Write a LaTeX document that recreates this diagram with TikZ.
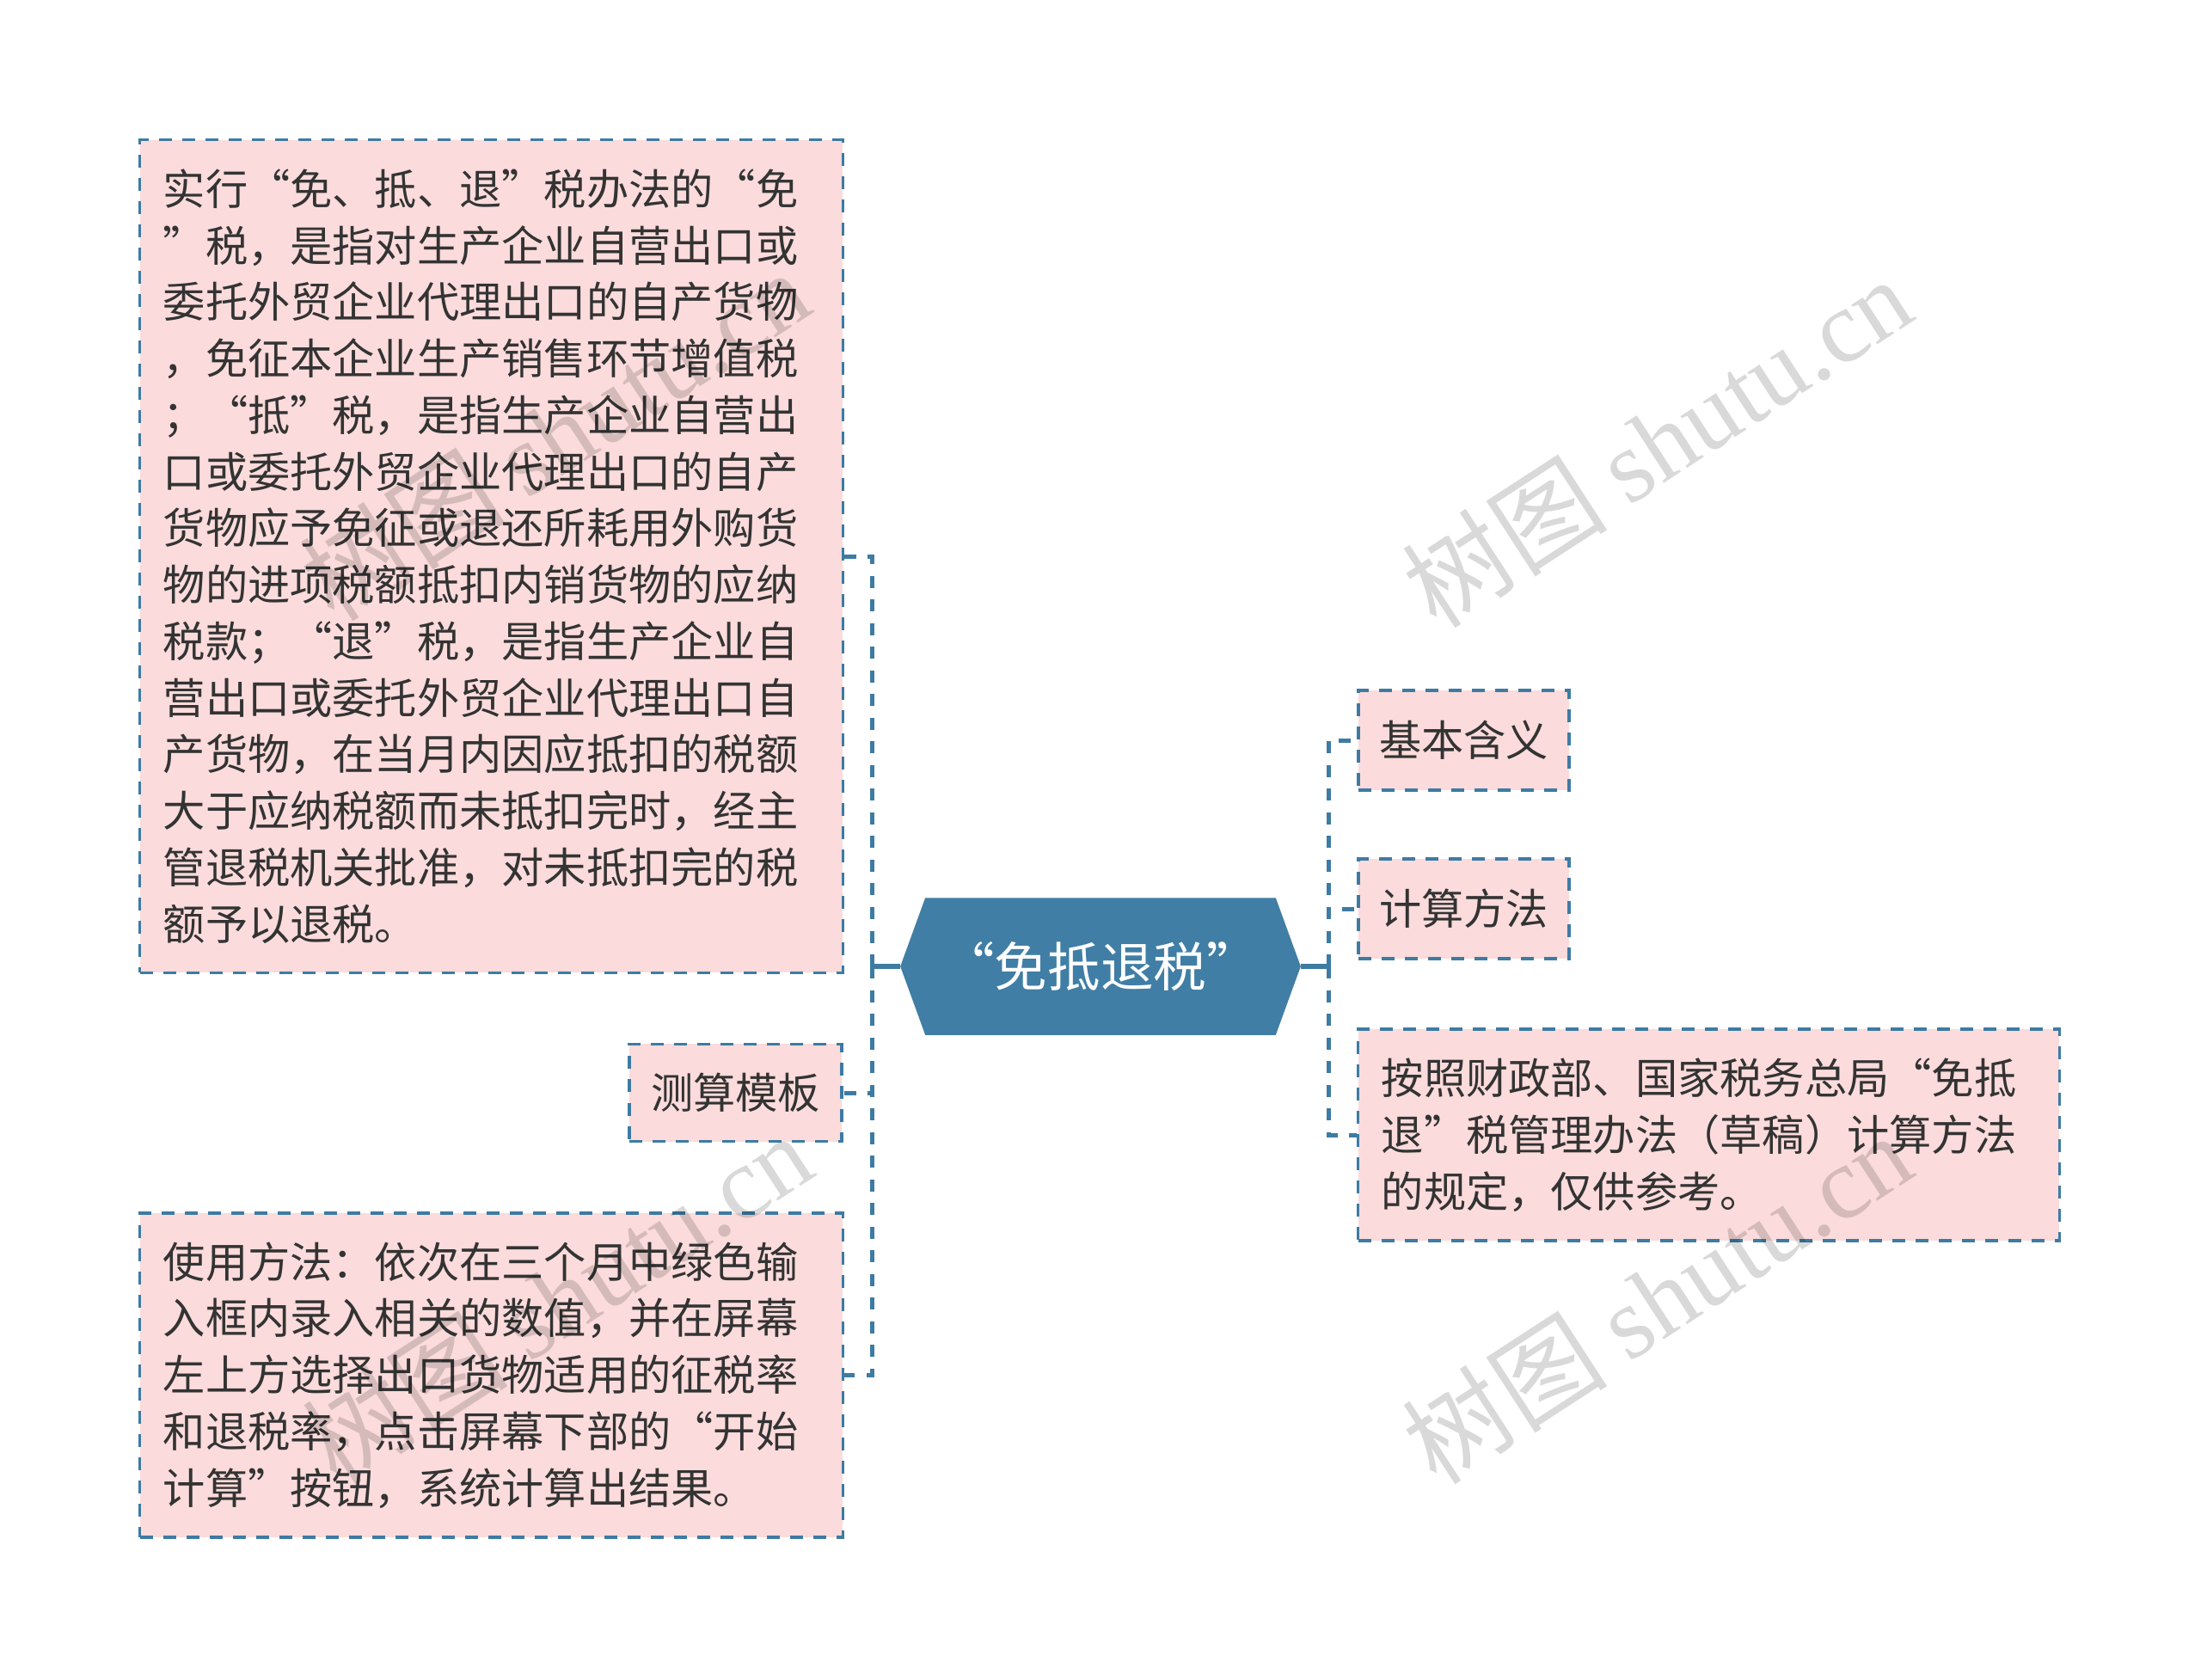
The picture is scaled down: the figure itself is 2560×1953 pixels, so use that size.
\documentclass[tikz,border=0pt]{standalone}
\usepackage{fontspec}
\setmainfont{Noto Sans CJK SC}
\newfontfamily\wmserif{Liberation Serif}
\definecolor{linkblue}{RGB}{61,123,163}
\definecolor{hexblue}{RGB}{64,126,165}
\definecolor{boxpink}{RGB}{251,219,219}
\definecolor{txtgray}{RGB}{51,51,51}
\pgfdeclarelayer{bg}
\pgfsetlayers{bg,main}
\tikzset{
  leaf/.style={draw=linkblue, line width=0.033cm, dash pattern=on 0.15cm off 0.12cm,
    fill=boxpink, text=txtgray, inner sep=0pt, font=\fontsize{14pt}{18.7pt}\selectfont},
  bigleaf/.style={leaf, align=left, text width=7.63cm, inner xsep=0.27cm},
  link/.style={draw=linkblue, line width=0.05cm, dash pattern=on 0.14cm off 0.135cm},
  stem/.style={draw=linkblue, line width=0.06cm},
  wm/.style={rotate=33, text=black, text opacity=0.15, inner sep=0pt,
    font=\fontsize{34pt}{38pt}\selectfont}
}
\begin{document}
\begin{tikzpicture}[x=0.01cm,y=-0.01cm]
\useasboundingbox (0,0) rectangle (2560,1953);
\begin{pgfonlayer}{bg}
\fill[white] (0,0) rectangle (2560,1953);
\end{pgfonlayer}

% central topic
\node[minimum width=4.64cm, minimum height=1.58cm, inner sep=0pt, text=white,
  font=\fontsize{17.5pt}{21pt}\selectfont] (H) at (1280,1124) {“免抵退税”};
\begin{pgfonlayer}{bg}
\fill[hexblue] (H.west) -- ([xshift=0.29cm]H.north west) -- ([xshift=-0.29cm]H.north east)
  -- (H.east) -- ([xshift=-0.29cm]H.south east) -- ([xshift=0.29cm]H.south west) -- cycle;
\end{pgfonlayer}

% left children
\node[bigleaf, minimum height=9.68cm] (A) at (571.5,647) {%
实行“免、抵、退”税办法的“免\\
”税，是指对生产企业自营出口或\\
委托外贸企业代理出口的自产货物\\
，免征本企业生产销售环节增值税\\
；“抵”税，是指生产企业自营出\\
口或委托外贸企业代理出口的自产\\
货物应予免征或退还所耗用外购货\\
物的进项税额抵扣内销货物的应纳\\
税款；“退”税，是指生产企业自\\
营出口或委托外贸企业代理出口自\\
产货物，在当月内因应抵扣的税额\\
大于应纳税额而未抵扣完时，经主\\
管退税机关批准，对未抵扣完的税\\
额予以退税。};

\node[leaf, minimum width=2.47cm, minimum height=1.13cm] (C) at (855.5,1271) {测算模板};

\node[bigleaf, minimum height=3.77cm] (B) at (571.5,1599.5) {%
使用方法：依次在三个月中绿色输\\
入框内录入相关的数值，并在屏幕\\
左上方选择出口货物适用的征税率\\
和退税率，点击屏幕下部的“开始\\
计算”按钮，系统计算出结果。};

% right children
\node[leaf, minimum width=2.45cm, minimum height=1.16cm] (D) at (1702.5,861) {基本含义};
\node[leaf, minimum width=2.45cm, minimum height=1.16cm] (E) at (1702.5,1057) {计算方法};
\node[bigleaf, text width=7.61cm, minimum height=2.46cm] (F) at (1987.5,1320) {%
按照财政部、国家税务总局“免抵\\
退”税管理办法（草稿）计算方法\\
的规定，仅供参考。};

% connectors
\coordinate (lt) at (1014,1124);
\coordinate (rt) at (1545,1124);
\draw[stem] (H.west) -- (lt);
\draw[stem] (H.east) -- (rt);
\draw[link] (lt) |- (A.east);
\draw[link] (lt) |- (C.east);
\draw[link] (lt) |- (B.east);
\draw[link] (rt) |- (D.west);
\draw[link] (rt) |- (E.west);
\draw[link] (rt) |- (F.west);

% watermarks
\node[wm] (w1) at (645,506) {树图 {\wmserif shutu.cn}};
\node[wm] (w2) at (648,1510) {树图 {\wmserif shutu.cn}};
\node[wm] (w3) at (1927,514) {树图 {\wmserif shutu.cn}};
\node[wm] (w4) at (1927,1510) {树图 {\wmserif shutu.cn}};
\end{tikzpicture}
\end{document}
